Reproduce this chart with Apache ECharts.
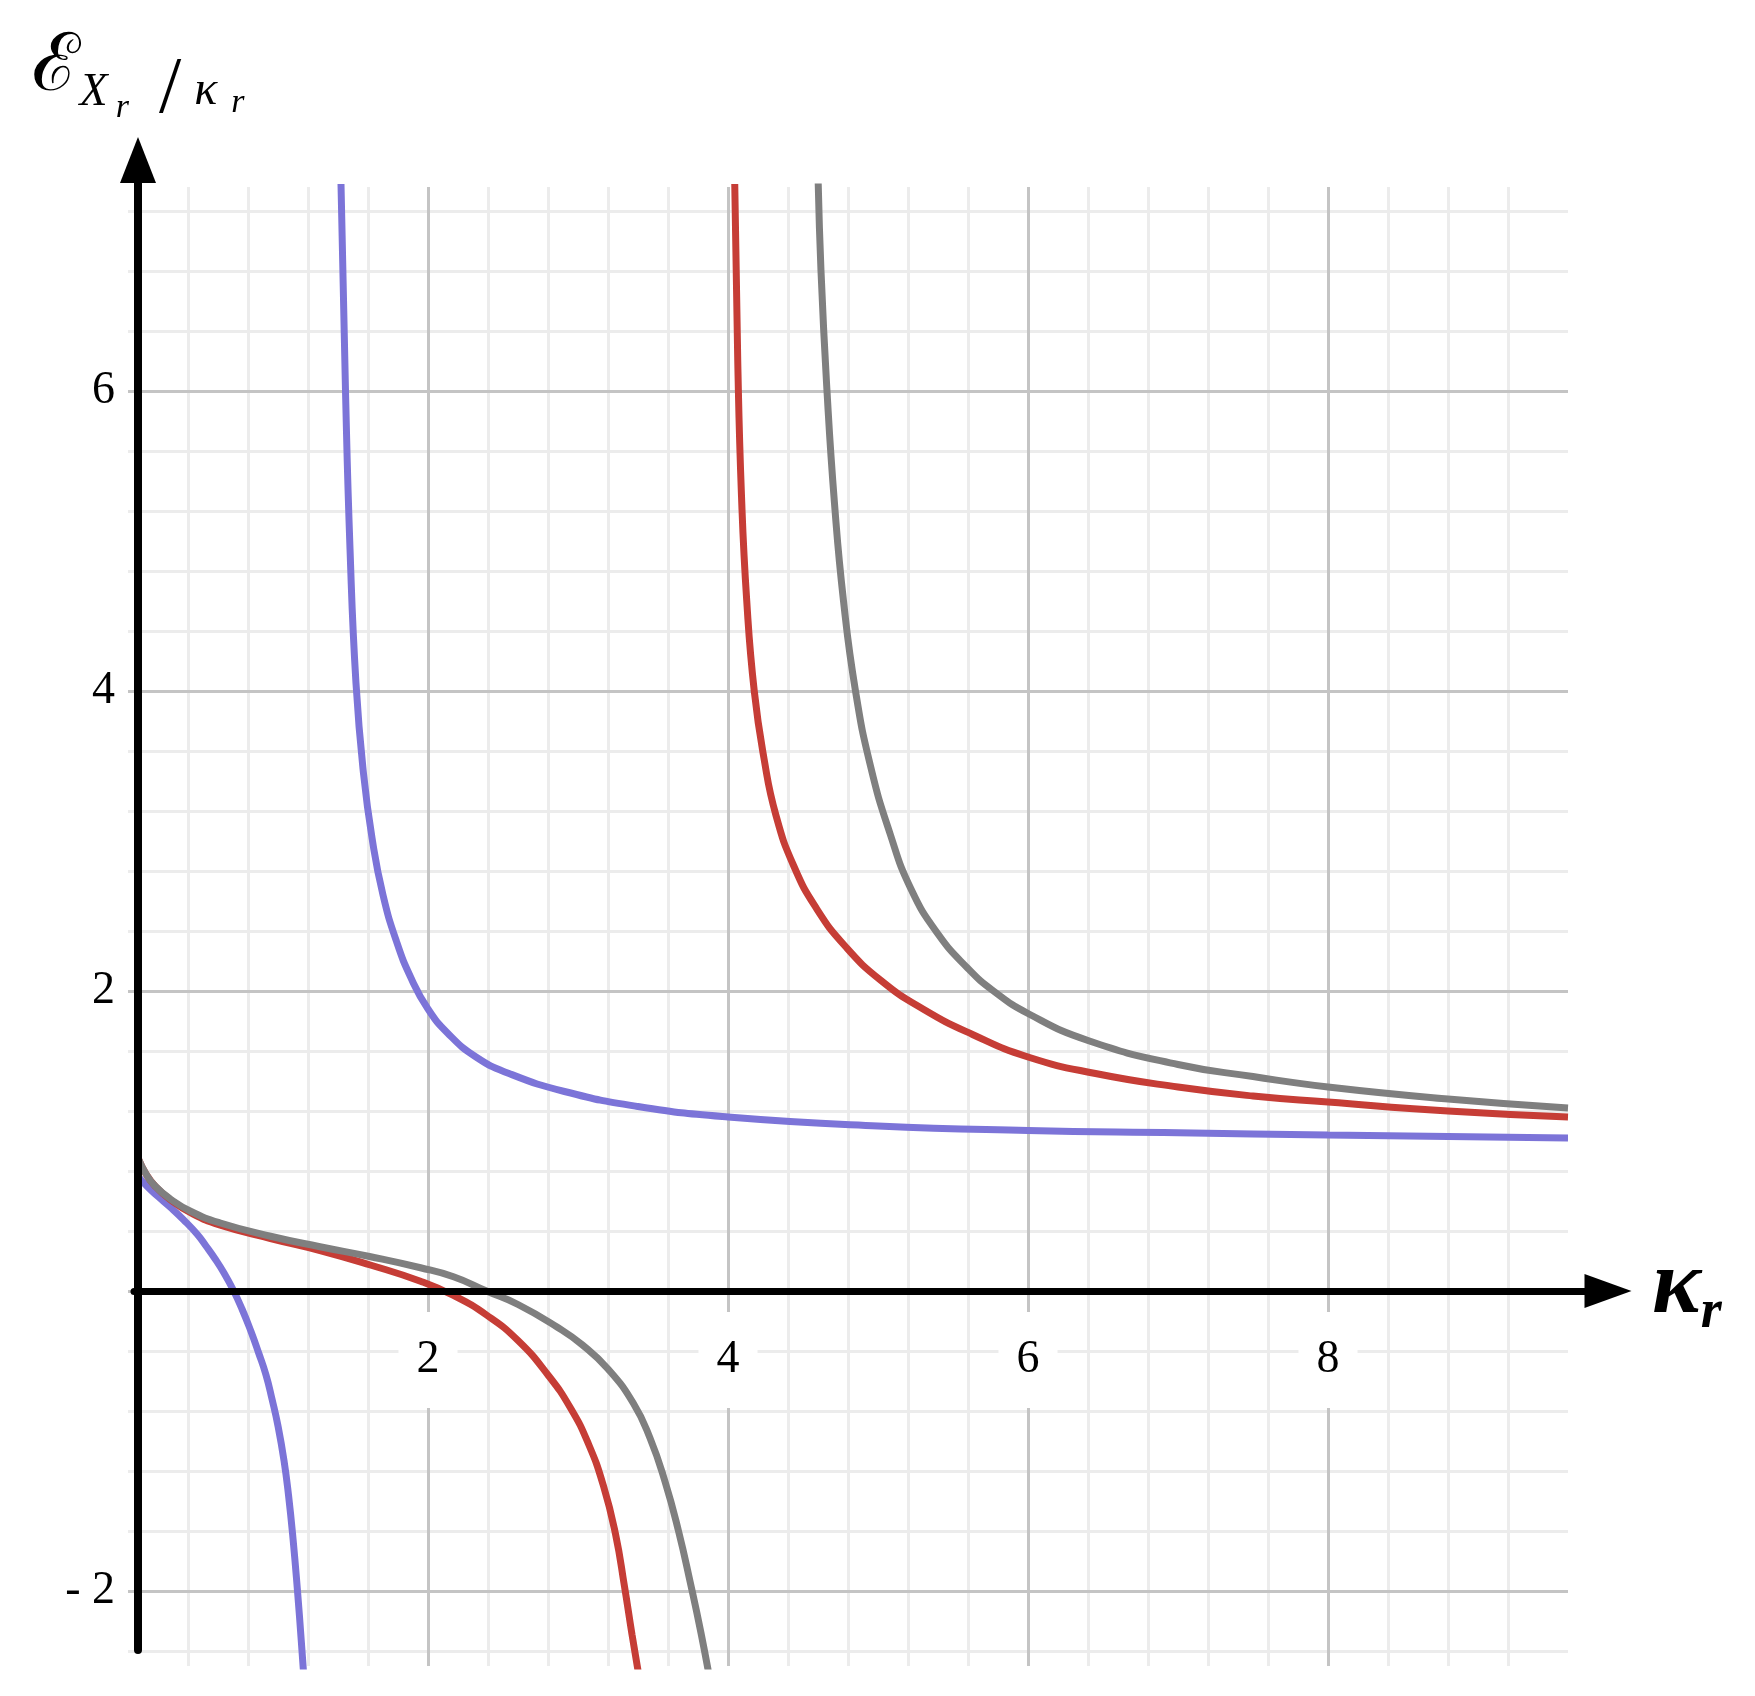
<!DOCTYPE html>
<html><head><meta charset="utf-8">
<script src="https://cdn.jsdelivr.net/npm/echarts@6/dist/echarts.min.js"></script>
<style>html,body{margin:0;padding:0;background:#fff}#c{width:1755px;height:1696px}</style>
</head><body><div id="c"></div>
<script>
// ---------- data ----------
const xTickLabels = [2, 4, 6, 8];
const yTickLabels = [-2, 2, 4, 6];

const blueLower = [[0.07,0.76],[0.13,0.695],[0.2,0.63],[0.28,0.56],[0.37,0.475],[0.46,0.38],[0.52,0.30],[0.58,0.215],[0.64,0.12],[0.70,0.01],[0.76,-0.12],[0.82,-0.27],[0.87,-0.41],[0.92,-0.56],[0.96,-0.72],[1.0,-0.9],[1.04,-1.13],[1.07,-1.36],[1.10,-1.65],[1.13,-2.0],[1.155,-2.33],[1.18,-2.68]];
const blueUpper = [[1.42,7.38],[1.45,6.0],[1.48,4.95],[1.52,4.05],[1.57,3.45],[1.63,3.0],[1.70,2.64],[1.79,2.33],[1.89,2.08],[2.0,1.88],[2.13,1.72],[2.32,1.56],[2.54,1.45],[2.91,1.33],[3.4,1.23],[4.0,1.16],[5.0,1.10],[6.0,1.07],[7.0,1.055],[8.0,1.04],[9.6,1.02]];
const redLower = [[0.07,0.88],[0.12,0.78],[0.18,0.70],[0.28,0.61],[0.42,0.52],[0.61,0.44],[0.95,0.35],[1.28,0.27],[1.61,0.175],[1.95,0.065],[2.17,-0.03],[2.39,-0.16],[2.6,-0.33],[2.8,-0.56],[2.95,-0.78],[3.07,-1.02],[3.17,-1.3],[3.25,-1.62],[3.31,-1.97],[3.36,-2.29],[3.42,-2.65]];
const redUpper = [[4.045,7.38],[4.065,6.2],[4.09,5.3],[4.125,4.6],[4.175,4.0],[4.24,3.55],[4.32,3.17],[4.44,2.83],[4.59,2.55],[4.78,2.3],[5.02,2.07],[5.3,1.88],[5.63,1.71],[6.0,1.56],[6.45,1.45],[7.0,1.36],[7.5,1.30],[8.0,1.26],[8.8,1.20],[9.6,1.16]];
const grayLower = [[0.07,0.88],[0.12,0.78],[0.18,0.70],[0.28,0.615],[0.42,0.53],[0.61,0.455],[0.95,0.365],[1.28,0.295],[1.61,0.23],[1.95,0.155],[2.17,0.095],[2.39,0.0],[2.6,-0.09],[2.86,-0.24],[3.03,-0.36],[3.2,-0.52],[3.37,-0.75],[3.48,-0.98],[3.58,-1.27],[3.67,-1.6],[3.75,-1.95],[3.82,-2.28],[3.89,-2.65]];
const grayUpper = [[4.60,7.45],[4.62,6.8],[4.66,6.0],[4.71,5.25],[4.77,4.6],[4.85,4.0],[4.95,3.5],[5.08,3.05],[5.22,2.68],[5.40,2.38],[5.60,2.15],[5.77,2.0],[6.0,1.85],[6.4,1.67],[7.0,1.51],[7.5,1.43],[8.0,1.36],[8.8,1.28],[9.6,1.22]];

// ---------- layout ----------
const PX = 150, OX = 128, OY = 1291;
const X_MAX = 9.6, Y_MIN = -2.5, Y_MAX = 7.36;
function gridRect(x0, x1, y0, y1) {
  return { left: OX + x0 * PX, top: OY - y1 * PX, width: (x1 - x0) * PX, height: (y1 - y0) * PX,
           containLabel: false, outerBoundsMode: 'none', show: false };
}
const SERIF = 'Liberation Serif';
const MINOR = '#ececec', MAJOR = '#c4c4c4';
const BLUE = '#7c74d8', RED = '#c63d36', GRAY = '#7f7f7f';

function hiddenAxis(gridIndex) {
  return { type: 'value', gridIndex, min: 0, max: 1, show: false, axisLine: { onZero: false } };
}
function tok(fs, pad, extra) {
  return Object.assign({ fontFamily: SERIF, fontStyle: 'italic', fontSize: fs, color: '#000',
                         verticalAlign: 'top', padding: pad }, extra || {});
}

const chart = echarts.init(document.getElementById('c'), null, { renderer: 'canvas' });

const option = {
  backgroundColor: '#fff',
  animation: false,
  grid: [
    gridRect(0, X_MAX, Y_MIN, Y_MAX),      // 0 data + vertical grid
    gridRect(0, X_MAX, -2.4, 7.2),         // 1 minor horizontal grid
    gridRect(0, X_MAX, -2, 6),             // 2 major horizontal grid + y labels
    { left: 134, top: OY - 200, width: 1474, height: 200, containLabel: false, outerBoundsMode: 'none' }, // 3 x arrow
    { left: 138, top: 160, width: 100, height: 1490, containLabel: false, outerBoundsMode: 'none' },       // 4 y arrow
    gridRect(0, X_MAX, 0, 1)               // 5 x labels
  ],
  xAxis: [
    { type: 'value', gridIndex: 0, min: 0, max: X_MAX, interval: 0.4, z: 0,
      axisLine: { show: false, onZero: false }, axisTick: { show: false }, axisLabel: { show: false },
      splitLine: { show: true, showMinLine: false, showMaxLine: false, lineStyle: { color: MINOR, width: 3 } } },
    { type: 'value', gridIndex: 0, min: 0, max: X_MAX, interval: 2, z: 1,
      axisLine: { show: false, onZero: false }, axisTick: { show: false }, axisLabel: { show: false },
      splitLine: { show: true, showMinLine: false, showMaxLine: false, lineStyle: { color: MAJOR, width: 3 } } },
    hiddenAxis(1),
    hiddenAxis(2),
    { type: 'value', gridIndex: 3, min: 0, max: 1, position: 'bottom', z: 3,
      axisLine: { show: true, onZero: false, symbol: ['none', 'triangle'], symbolSize: [34, 47],
                  lineStyle: { color: '#000', width: 7 } },
      axisTick: { show: false }, axisLabel: { show: false }, splitLine: { show: false },
      name: '{k|κ}{r|r}', nameLocation: 'end', nameGap: 44,
      nameTextStyle: { align: 'left', verticalAlign: 'middle',
        rich: {
          k: tok(92, [0, 0, 0, 0], { fontWeight: 'bold' }),
          r: tok(54, [44, 0, 0, 0], { fontWeight: 'bold' })
        } } },
    hiddenAxis(4),
    { type: 'value', gridIndex: 5, min: 0, max: X_MAX, interval: 2, z: 1.6,
      axisLine: { show: false, onZero: false }, axisTick: { show: false }, splitLine: { show: false },
      axisLabel: { show: true, showMinLabel: false, showMaxLabel: false, margin: 21,
        fontFamily: SERIF, fontSize: 46, color: '#000', lineHeight: 46,
        backgroundColor: '#fff', padding: [25, 18],
        formatter: v => (xTickLabels.indexOf(v) >= 0 ? String(v) : '') } }
  ],
  yAxis: [
    { type: 'value', gridIndex: 0, min: Y_MIN, max: Y_MAX, show: false, axisLine: { onZero: false } },
    { type: 'value', gridIndex: 1, min: -2.4, max: 7.2, interval: 0.4, z: 0,
      axisLine: { show: false, onZero: false }, axisTick: { show: false }, axisLabel: { show: false },
      splitLine: { show: true, lineStyle: { color: MINOR, width: 3 } } },
    { type: 'value', gridIndex: 2, min: -2, max: 6, interval: 2, z: 1,
      axisLine: { show: false, onZero: false }, axisTick: { show: false },
      axisLabel: { show: true, margin: 13, fontFamily: SERIF, fontSize: 46, color: '#000',
        formatter: v => (yTickLabels.indexOf(v) >= 0 ? (v < 0 ? '- ' + Math.abs(v) : String(v)) : '') },
      splitLine: { show: true, lineStyle: { color: MAJOR, width: 3 } } },
    hiddenAxis(3),
    { type: 'value', gridIndex: 4, min: 0, max: 1, position: 'left', z: 3,
      axisLine: { show: true, onZero: false, symbol: ['none', 'triangle'], symbolSize: [36, 46],
                  lineStyle: { color: '#000', width: 8, cap: 'round' } },
      axisTick: { show: false }, axisLabel: { show: false }, splitLine: { show: false },
      name: '{E|ℰ}{X|X}{r1|r}{s|/}{k|κ}{r2|r}', nameLocation: 'end', nameGap: 29,
      nameTextStyle: { align: 'center', verticalAlign: 'bottom',
        rich: {
          E: tok(80, [29, 0, 0, 0], { fontFamily: 'DejaVu Serif', fontStyle: 'normal' }),
          X: tok(46, [70, 0, 0, 0]),
          r1: tok(34, [91, 0, 0, 8]),
          s: tok(80, [51, 0, 0, 30], { fontStyle: 'normal' }),
          k: tok(48, [67, 0, 0, 13]),
          r2: tok(34, [86, 0, 0, 14])
        } } },
    hiddenAxis(5)
  ],
  series: [
    { name: 'blue lower', data: blueLower, color: BLUE },
    { name: 'blue upper', data: blueUpper, color: BLUE },
    { name: 'red lower', data: redLower, color: RED },
    { name: 'red upper', data: redUpper, color: RED },
    { name: 'gray lower', data: grayLower, color: GRAY },
    { name: 'gray upper', data: grayUpper, color: GRAY }
  ].map(s => ({
    type: 'line', name: s.name, data: s.data, xAxisIndex: 0, yAxisIndex: 0,
    showSymbol: false, smooth: 0.5, clip: true, z: 2, silent: true,
    lineStyle: { color: s.color, width: 7 }, itemStyle: { color: s.color }
  }))
};
chart.setOption(option);
</script>
</body></html>
